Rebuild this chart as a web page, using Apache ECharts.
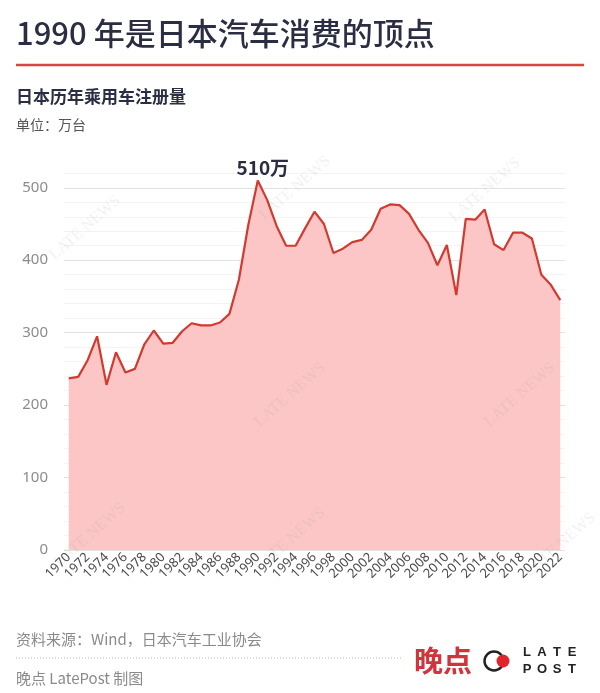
<!DOCTYPE html>
<html><head><meta charset="utf-8">
<script src="https://cdn.jsdelivr.net/npm/echarts@6/dist/echarts.min.js"></script>
<style>html,body{margin:0;padding:0;background:#fff}#c{width:600px;height:693px}</style>
</head><body><div id="c"></div><script>
const years = ['1970','1971','1972','1973','1974','1975','1976','1977','1978','1979',
  '1980','1981','1982','1983','1984','1985','1986','1987','1988','1989',
  '1990','1991','1992','1993','1994','1995','1996','1997','1998','1999',
  '2000','2001','2002','2003','2004','2005','2006','2007','2008','2009',
  '2010','2011','2012','2013','2014','2015','2016','2017','2018','2019',
  '2020','2021','2022'];
const registrations = [237,239,262,295,228,273,245,250,284,303,
  285,286,302,313,310,310,314,326,373,449,
  510,483,447,420,420,444,467,450,410,416,
  425,428,442,471,477,476,464,442,424,393,
  421,352,457,456,470,422,414,438,438,430,
  380,366,345];
const peakYear = '1990';
const peakLabel = '510万';
const titleText = '1990 年是日本汽车消费的顶点';
const subtitleText = '日本历年乘用车注册量';
const unitText = '单位：万台';
const sourceText = '资料来源：Wind，日本汽车工业协会';
const creditText = '晚点 LatePost 制图';

const CJK = '"Noto Sans CJK SC","Noto Sans",sans-serif';
const chart = echarts.init(document.getElementById('c'), null, {renderer:'canvas'});

const peakIndex = years.indexOf(peakYear);

const wm = [[85,228],[295,188],[485,190],[290,395],[520,395],[90,535],[290,540],[560,545]].map(p => ({
  type:'text', x:p[0], y:p[1], rotation:0.72, z:100, silent:true,
  style:{text:'LATE NEWS', fill:'rgba(150,150,150,0.13)', font:'16px "Liberation Serif", serif', align:'center', verticalAlign:'middle'}
}));

const logoLetters = [['L',527,652],['A',542,652],['T',557,652],['E',572,652],['P',527,669],['O',542,669],['S',557,669],['T',572,669]].map(l => ({
  type:'text', x:l[1], y:l[2], style:{text:l[0], fill:'#222', font:'bold 13px "Liberation Sans", sans-serif', align:'center', verticalAlign:'middle'}
}));

chart.setOption({
  animation:false,
  backgroundColor:'#fff',
  grid:{left:64, right:35, top:173.3, bottom:143},
  xAxis:{
    type:'category', data:years, boundaryGap:true,
    axisLine:{show:false}, axisTick:{show:false},
    axisLabel:{interval:1, rotate:45, fontSize:13, color:'#4a4a4a', margin:5, fontFamily:'"Noto Sans",sans-serif'}
  },
  yAxis:{
    type:'value', min:0, max:520, interval:20,
    axisLine:{show:false}, axisTick:{show:false},
    axisLabel:{formatter: v => (v % 100 === 0 ? String(v) : ''), color:'#8c8c8c', fontSize:15, margin:16, fontFamily:'"Noto Sans",sans-serif'},
    splitLine:{lineStyle:{color:['#e2e2e2','#f3f3f3','#f3f3f3','#f3f3f3','#f3f3f3'], width:1}}
  },
  series:[{
    type:'line', data:registrations, symbol:'none',
    lineStyle:{color:'#d23a30', width:2.2},
    areaStyle:{color:'#fcc6c6', opacity:1},
    markPoint:{
      symbol:'circle', symbolSize:1, itemStyle:{color:'rgba(0,0,0,0)'},
      data:[{coord:[peakIndex, registrations[peakIndex]], value:registrations[peakIndex]}],
      label:{show:true, position:'top', distance:3, offset:[5,0], formatter: peakLabel,
        fontSize:19, fontWeight:'bold', color:'#2b2d42', fontFamily: CJK}
    }
  }],
  graphic:[
    {type:'text', x:16, y:33, style:{text:titleText, fill:'#2b2d42', font:'500 31px '+CJK, verticalAlign:'middle'}},
    {type:'line', shape:{x1:16, y1:65, x2:584, y2:65}, style:{stroke:'#d6473f', lineWidth:2.5}},
    {type:'text', x:16, y:97, style:{text:subtitleText, fill:'#2b2d42', font:'bold 17px '+CJK, verticalAlign:'middle'}},
    {type:'text', x:16, y:125, style:{text:unitText, fill:'#555', font:'14px '+CJK, verticalAlign:'middle'}},
    {type:'text', x:16, y:639, style:{text:sourceText, fill:'#8a8a8a', font:'15px '+CJK, verticalAlign:'middle'}},
    {type:'line', shape:{x1:16, y1:658, x2:402, y2:658}, style:{stroke:'#bbb', lineWidth:1, lineDash:[1,2]}},
    {type:'text', x:16, y:678, style:{text:creditText, fill:'#8a8a8a', font:'15px '+CJK, verticalAlign:'middle'}},
    {type:'text', x:414, y:661, style:{text:'晚点', fill:'#d1343a', font:'bold 29px '+CJK, verticalAlign:'middle'}},
    {type:'circle', shape:{cx:494, cy:661, r:9.5}, style:{fill:'none', stroke:'#222', lineWidth:2.5}},
    {type:'circle', shape:{cx:503, cy:661, r:6.5}, style:{fill:'#e0262d'}},
    ...logoLetters,
    ...wm
  ]
});
</script></body></html>
